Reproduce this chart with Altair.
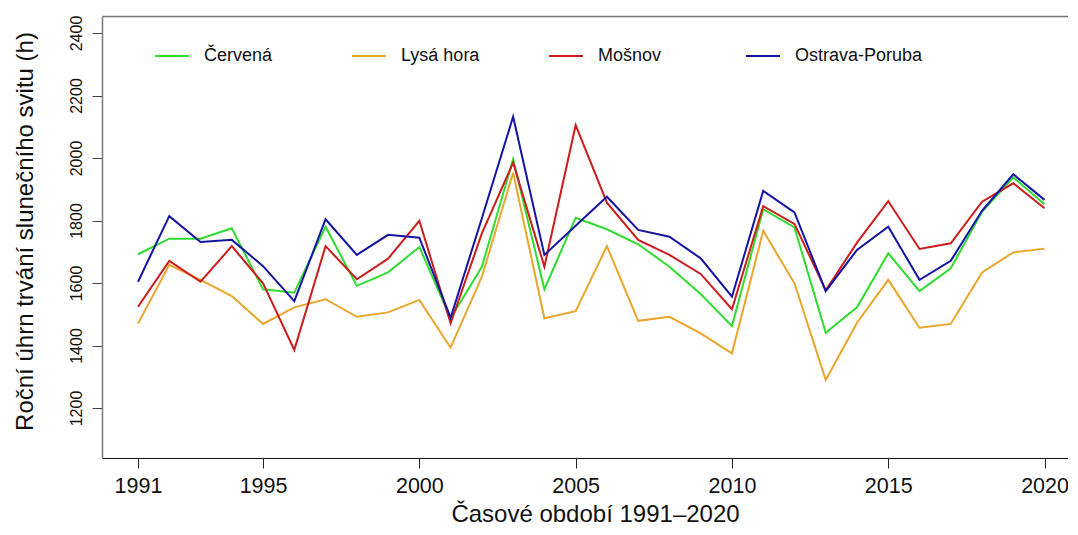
import altair as alt
import pandas as pd

years = list(range(1991, 2021))
cervena = [1692, 1742, 1742, 1775, 1580, 1569, 1780, 1591, 1634, 1715,
           1487, 1652, 1996, 1580, 1809, 1772, 1724, 1652, 1565, 1462,
           1836, 1778, 1441, 1522, 1695, 1574, 1647, 1828, 1938, 1852]
lysa_hora = [1470, 1658, 1610, 1558, 1469, 1522, 1548, 1492, 1506, 1546,
             1393, 1620, 1953, 1487, 1510, 1718, 1479, 1492, 1439, 1375,
             1767, 1599, 1290, 1473, 1610, 1457, 1469, 1634, 1698, 1710]
mosnov = [1524, 1671, 1604, 1718, 1599, 1386, 1718, 1612, 1678, 1799,
          1471, 1759, 1985, 1652, 2105, 1857, 1738, 1690, 1629, 1516,
          1846, 1789, 1577, 1729, 1862, 1709, 1727, 1860, 1919, 1839]
ostrava = [1604, 1814, 1731, 1738, 1654, 1542, 1804, 1690, 1754, 1745,
           1489, 1807, 2132, 1690, 1783, 1876, 1770, 1748, 1679, 1556,
           1895, 1826, 1574, 1706, 1780, 1610, 1671, 1831, 1948, 1866]

series_names = ["Červená", "Lysá hora", "Mošnov", "Ostrava-Poruba"]
series_values = [cervena, lysa_hora, mosnov, ostrava]
series_colors = ["#2fdc2f", "#e9a52c", "#cc1c1c", "#1414a4"]
x_ticks = [1991, 1995, 2000, 2005, 2010, 2015, 2020]
y_ticks = [1200, 1400, 1600, 1800, 2000, 2200, 2400]

rows = []
for name, vals in zip(series_names, series_values):
    for yr, v in zip(years, vals):
        rows.append({"rok": yr, "hodnota": v, "stanice": name})
df = pd.DataFrame(rows)

FONT = "Liberation Sans"
x_scale = alt.Scale(domain=[1989.848, 2020.75], nice=False, zero=False)

bottom_axis = alt.Axis(
    values=x_ticks, format="d", title="Časové období 1991–2020",
    grid=False, tickSize=10, tickColor="#222", domainColor="#111",
    labelFontSize=21.5, labelBaseline="alphabetic", labelPadding=24,
    labelColor="#111", labelFlush=False,
    titleFontSize=24, titleFontWeight="normal", titleColor="#111",
    titleX=493, titleY=63, titleBaseline="alphabetic", titleAnchor="middle",
)
top_axis = alt.Axis(
    orient="top", labels=False, ticks=False, grid=False, title=None,
    domainColor="#777", domainWidth=1.5,
)

y_enc = alt.Y(
    "hodnota:Q",
    scale=alt.Scale(domain=[1040, 2454.4], nice=False, zero=False),
    axis=alt.Axis(
        values=y_ticks, format="d", title="Roční úhrn trvání slunečního svitu (h)",
        grid=False, tickSize=10, tickColor="#444", domainColor="#777",
        domainWidth=1.5,
        labelFontSize=16, labelAngle=-90, labelAlign="center",
        labelBaseline="alphabetic", labelPadding=11, labelColor="#111",
        titleFontSize=24, titleFontWeight="normal", titleColor="#111",
        titleAngle=-90, titleX=-77, titleY=215, titleBaseline="middle",
        titleAlign="center",
    ),
)
color_enc = alt.Color(
    "stanice:N",
    scale=alt.Scale(domain=series_names, range=series_colors),
    legend=alt.Legend(
        title=None, orient="none", legendX=52, legendY=22,
        direction="horizontal", columns=4, gridAlign="all",
        symbolType="stroke", symbolSize=1156, symbolStrokeWidth=2,
        labelFontSize=18, labelFont=FONT, labelColor="#111",
        labelOffset=14, columnPadding=16, padding=0,
    ),
)

axes_for_layers = [top_axis, bottom_axis, None, None]
layers = []
for s, ax in zip(series_names, axes_for_layers):
    x_enc = alt.X("rok:Q", scale=x_scale, axis=ax)
    layers.append(
        alt.Chart(df).mark_line(strokeWidth=2)
        .encode(x=x_enc, y=y_enc, color=color_enc)
        .transform_filter(alt.datum.stanice == s)
    )

chart = alt.layer(*layers).resolve_axis(x="independent").properties(
    width=966, height=442,
    autosize=alt.AutoSizeParams(type="none"),
    padding={"left": 94, "top": 8, "right": 0, "bottom": 69},
).configure(font=FONT).configure_view(
    stroke=None
).configure_axis(labelFont=FONT, titleFont=FONT)

chart.save("out.html", embed_options={"renderer": "svg", "actions": False})
